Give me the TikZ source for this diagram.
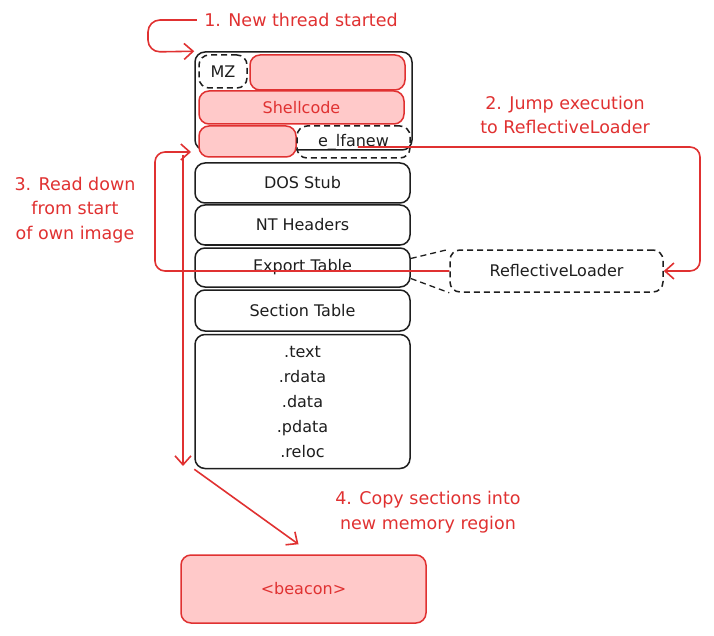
\documentclass[tikz,border=0pt]{standalone}
\usepackage{fontspec}
\setmainfont{DejaVu Sans}
\usetikzlibrary{arrows.meta}
\definecolor{hred}{HTML}{E03131}
\definecolor{hpink}{HTML}{FFC9C9}
\definecolor{hink}{HTML}{1E1E1E}
\tikzset{
  part/.style={draw=hink, line width=1.5pt, rounded corners=10pt, minimum width=215pt, font=\fontsize{16}{25}\selectfont, text=hink, inner sep=0pt},
  dpart/.style={part, dashed, dash pattern=on 6pt off 4pt},
  hot/.style={part, draw=hred, fill=hpink, text=hred},
  note/.style={text=hred, align=center, font=\fontsize{17.5}{24.5}\selectfont},
  rarrow/.style={draw=hred, line width=1.6pt, -{Straight Barb[length=9pt,width=16pt]}}
}
\begin{document}
\begin{tikzpicture}[x=1pt, y=-1pt]
 \useasboundingbox (0,0) rectangle (714,636);
% PE image in memory
 \node[part, minimum width=217pt, minimum height=98pt] (hdr) at (303.5,101) {};
 \node[dpart, minimum width=48pt, minimum height=33pt] (mz) at (223,71.5) {MZ};
 \node[hot, minimum width=155pt, minimum height=35pt] (blank) at (327.5,72.5) {};
 \node[hot, minimum width=205pt, minimum height=33pt] (shell) at (301.5,107.5) {Shellcode};
 \node[hot, minimum width=97pt, minimum height=31pt] (stub) at (247.5,141.5) {};
 \node[dpart, minimum width=113pt, minimum height=32pt] (elf) at (353.5,142) {e\_lfanew};
 \node[part, minimum height=40pt] (dos) at (302.5,183) {DOS Stub};
 \node[part, minimum height=40pt] (nt) at (302.5,225) {NT Headers};
 \node[part, minimum height=39pt] (exp) at (302.5,267.5) {Export Table};
 \node[part, minimum height=41pt] (sec) at (302.5,310.5) {Section Table};
 \node[part, minimum height=134pt, align=center] (body) at (302.5,401.5) {.text\\.rdata\\.data\\.pdata\\.reloc};
 \node[dpart, minimum width=213pt, minimum height=42pt] (rl) at (556.5,271) {ReflectiveLoader};
 \node[hot, minimum width=245pt, minimum height=68pt] (beacon) at (303.5,589) {<beacon>};
 \draw[hink, line width=1.3pt, dashed, dash pattern=on 6pt off 4pt] ([yshift=9pt]exp.east) -- (rl.north west);
 \draw[hink, line width=1.3pt, dashed, dash pattern=on 6pt off 4pt] ([yshift=-11pt]exp.east) -- (rl.south west);

% steps
 \node[note] (t1) at (301,20) {1. New thread started};
 \node[note] (t2) at (565,115) {2. Jump execution\\to ReflectiveLoader};
 \node[note] (t3) at (75,210) {3. Read down\\from start\\of own image};
 \node[note] (t4) at (428,512) {4. Copy sections into\\new memory region};
 \coordinate (imgtop) at (191,152);
 \coordinate (rdtop) at (183,155);
 \coordinate (rdend) at (183,466);
 \draw[rarrow, rounded corners=12pt] ([xshift=-4pt]t1.west) -| (148,52) -- (hdr.north west);
 \draw[rarrow, rounded corners=10pt] ([xshift=-53pt,yshift=-5pt]elf.east) -- (700,147) |- (rl.east);
 \draw[rarrow, rounded corners=10pt] (rl.west) -- (155,271) |- (imgtop);
 \draw[rarrow] (rdtop) -- (rdend);
 \draw[rarrow] (body.south west) -- ([xshift=-5pt,yshift=10pt]beacon.north);
\end{tikzpicture}
\end{document}
